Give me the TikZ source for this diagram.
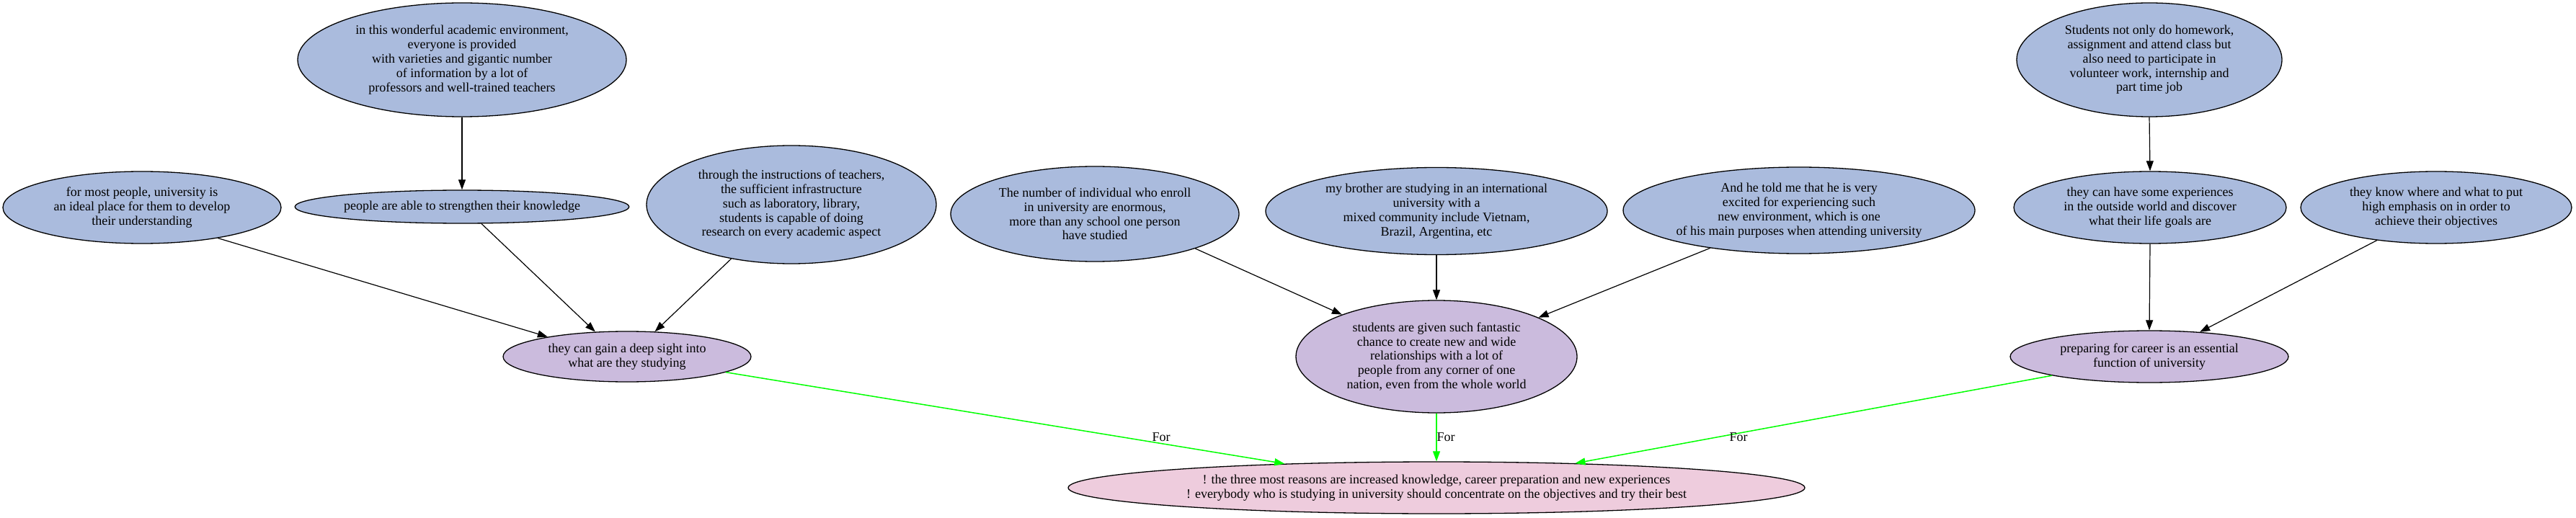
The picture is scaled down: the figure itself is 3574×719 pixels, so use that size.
\documentclass[tikz,border=0pt]{standalone}
\usepackage{fontspec}
\setmainfont{Liberation Serif}
\usetikzlibrary{shapes.geometric,arrows.meta}
\definecolor{nblue}{RGB}{170,187,221}
\definecolor{npurple}{RGB}{203,187,221}
\definecolor{npink}{RGB}{238,204,221}
\definecolor{egreen}{RGB}{0,255,0}
\newcommand{\nodefont}{\fontsize{18pt}{19.8pt}\selectfont}
\tikzset{
  basenode/.style={ellipse, draw=black, line width=1.3pt, inner sep=0pt, align=center, font=\nodefont},
  bnode/.style={basenode, fill=nblue},
  pnode/.style={basenode, fill=npurple},
  knode/.style={basenode, fill=npink},
  sz/.style 2 args={minimum width=#1pt, minimum height=#2pt},
  blackedge/.style={draw=black, line width=1.2pt, -{Triangle[length=14pt,width=10pt]}},
  greenedge/.style={draw=egreen, line width=1.5pt, -{Triangle[length=14pt,width=10pt]}},
  lbl/.style={font=\nodefont, inner sep=0pt}
}
\begin{document}
\begin{tikzpicture}[x=1pt,y=-1pt]
\useasboundingbox (0,0) rectangle (3574,719);
% top row
\node[bnode, sz={456}{158}] (A) at (641,83) {in this wonderful academic environment,\\ everyone is provided\\ with varieties and gigantic number\\ of information by a lot of\\ professors and well-trained teachers};
\node[bnode, sz={368}{158}] (H) at (2982,83) {Students not only do homework,\\ assignment and attend class but\\ also need to participate in\\ volunteer work, internship and\\ part time job};
% second row
\node[bnode, sz={386}{100}] (C) at (197,288) {for most people, university is\\ an ideal place for them to develop\\ their understanding};
\node[bnode, sz={450}{46}] (B) at (641,287) {people are able to strengthen their knowledge};
\node[bnode, sz={402}{164}] (D) at (1098,284) {through the instructions of teachers,\\ the sufficient infrastructure\\ such as laboratory, library,\\ students is capable of doing\\ research on every academic aspect};
\node[bnode, sz={400}{132}] (E) at (1519,297) {The number of individual who enroll\\ in university are enormous,\\ more than any school one person\\ have studied};
\node[bnode, sz={474}{121}] (F) at (1993,293) {my brother are studying in an international\\ university with a\\ mixed community include Vietnam,\\ Brazil, Argentina, etc};
\node[bnode, sz={488}{120}] (G) at (2496,292) {And he told me that he is very\\ excited for experiencing such\\ new environment, which is one\\ of his main purposes when attending university};
\node[bnode, sz={378}{100}] (I) at (2983,288) {they can have some experiences\\ in the outside world and discover\\ what their life goals are};
\node[bnode, sz={376}{100}] (J) at (3380,288) {they know where and what to put\\ high emphasis on in order to\\ achieve their objectives};
% third row
\node[pnode, sz={344}{70}] (K) at (870,495) {they can gain a deep sight into\\ what are they studying};
\node[pnode, sz={390}{156}] (L) at (1993,495) {students are given such fantastic\\ chance to create new and wide\\ relationships with a lot of\\ people from any corner of one\\ nation, even from the whole world};
\node[pnode, sz={386}{72}] (M) at (2982,495) {preparing for career is an essential\\ function of university};
% bottom
\node[knode, sz={1022}{72}] (N) at (1993,677) {! the three most reasons are increased knowledge, career preparation and new experiences\\ ! everybody who is studying in university should concentrate on the objectives and try their best};
% black edges
\draw[blackedge] (A.south) -- (B.north);
\draw[blackedge] (C.-22.7) -- (K.166);
\draw[blackedge] (B.-41.6) -- (K.142);
\draw[blackedge] (D.-138) -- (K.42);
\draw[blackedge] (E.-19.5) -- (L.156);
\draw[blackedge] (F.south) -- (L.north);
\draw[blackedge] (G.-157.3) -- (L.21.6);
\draw[blackedge] (H.south) -- (I.north);
\draw[blackedge] (I.south) -- (M.north);
\draw[blackedge] (J.-151.9) -- (M.26.6);
% green edges
\draw[greenedge] (K.-9) -- (N.171);
\draw[greenedge, line width=1.1pt] (L.south) -- (N.north);
\draw[greenedge] (M.-169.7) -- (N.10.3);
% labels
\node[lbl] (l1) at (1611,607) {For};
\node[lbl] (l2) at (2006,607) {For};
\node[lbl] (l3) at (2412,607) {For};
\end{tikzpicture}
\end{document}
